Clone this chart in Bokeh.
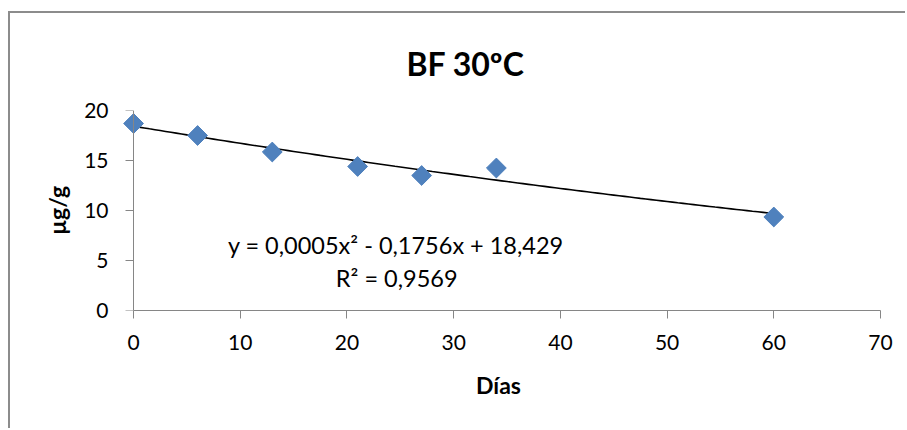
import numpy as np
from bokeh.plotting import figure
from bokeh.models import Range1d, Label, FixedTicker, LinearAxis
from bokeh.core.properties import value
from bokeh.embed import file_html
from bokeh.resources import INLINE

# ---- data ----
dias = [0, 6, 13, 21, 27, 34, 60]
ug_g = [18.7, 17.5, 15.85, 14.4, 13.5, 14.25, 9.35]
trend_coef = [0.0005, -0.1756, 18.429]   # y = a x^2 + b x + c (Excel trendline)
trend_x_end = 60
x_ticks = [0, 10, 20, 30, 40, 50, 60, 70]
y_ticks = [0, 5, 10, 15, 20]
title_text = "BF 30ºC"
x_label = "Días"
y_label = "µg/g"
eq_text = "y = 0,0005x² - 0,1756x + 18,429"
r2_text = "R² = 0,9569"

FONT = "Lato"
AXIS_COLOR = "#868686"

W, H = 897, 417
p = figure(width=W, height=H, output_backend="svg", toolbar_location=None,
           x_range=Range1d(-1.6, 70), y_range=Range1d(0, 20),
           min_border_left=106, min_border_right=27,
           min_border_top=96, min_border_bottom=120)
p.margin = (11, 0, 0, 8)
p.styles = {"border-left": "2px solid #8c8c8c", "border-top": "2px solid #8c8c8c"}
p.outline_line_color = None
p.xgrid.visible = False
p.ygrid.visible = False
p.background_fill_color = "white"
p.border_fill_color = "white"

# title
p.title.text = title_text
p.title.align = "left"
p.title.offset = 290
p.title.standoff = 56
p.title.text_font = FONT
p.title.text_font_style = "bold"
p.title.text_font_size = "32px"
p.title.text_color = "black"

# x axis
xa = p.below[0]
xa.ticker = FixedTicker(ticks=x_ticks)
xa.bounds = (0, 70)
xa.axis_line_color = AXIS_COLOR
xa.major_tick_line_color = AXIS_COLOR
xa.minor_tick_line_color = None
xa.major_tick_in = 0
xa.major_tick_out = 8
xa.major_label_standoff = 16
xa.major_label_text_font = FONT
xa.major_label_text_font_size = "21px"
xa.major_label_text_color = "black"
xa.axis_label = x_label
xa.axis_label_text_font = FONT
xa.axis_label_text_font_style = "bold"
xa.axis_label_text_font_size = "23px"
xa.axis_label_text_color = "black"
xa.axis_label_standoff = 18

# y axis labels (at frame edge, no line/ticks)
ya = p.left[0]
ya.ticker = FixedTicker(ticks=y_ticks)
ya.axis_line_color = None
ya.major_tick_line_color = None
ya.minor_tick_line_color = None
ya.major_tick_in = 0
ya.major_tick_out = 0
ya.major_label_standoff = 8
ya.major_label_text_font = FONT
ya.major_label_text_font_size = "21px"
ya.major_label_text_color = "black"
ya.axis_label = y_label
ya.axis_label_text_font = FONT
ya.axis_label_text_font_style = "bold"
ya.axis_label_text_font_size = "23px"
ya.axis_label_text_color = "black"
ya.axis_label_standoff = 10

# y axis line and ticks at x = 0 (labels not drawn)
ya2 = LinearAxis(ticker=FixedTicker(ticks=y_ticks), fixed_location=0,
                 axis_line_color=AXIS_COLOR, major_tick_line_color=AXIS_COLOR,
                 minor_tick_line_color=None, major_tick_in=0, major_tick_out=8,
                 major_label_text_font_size="1px", major_label_text_color=None,
                 major_label_standoff=0)
p.add_layout(ya2, "left")

# trendline
cx = np.linspace(0, trend_x_end, 121)
cy = np.polyval(trend_coef, cx)
p.line(cx, cy, line_color="black", line_width=1.6)

# points
p.scatter(dias, ug_g, marker="square", angle=np.pi / 4, size=14,
          fill_color="#4F81BD", line_color="#4F81BD")

# equation texts
p.add_layout(Label(x=24.58, y=6.57, text=eq_text, text_align="center",
                   text_baseline="alphabetic", text_font=FONT,
                   text_font_size="23.5px", text_color="black"))
p.add_layout(Label(x=24.66, y=3.22, text=r2_text, text_align="center",
                   text_baseline="alphabetic", text_font=FONT,
                   text_font_size="23.5px", text_color="black"))

open("out.html", "w").write(file_html(p, INLINE))
